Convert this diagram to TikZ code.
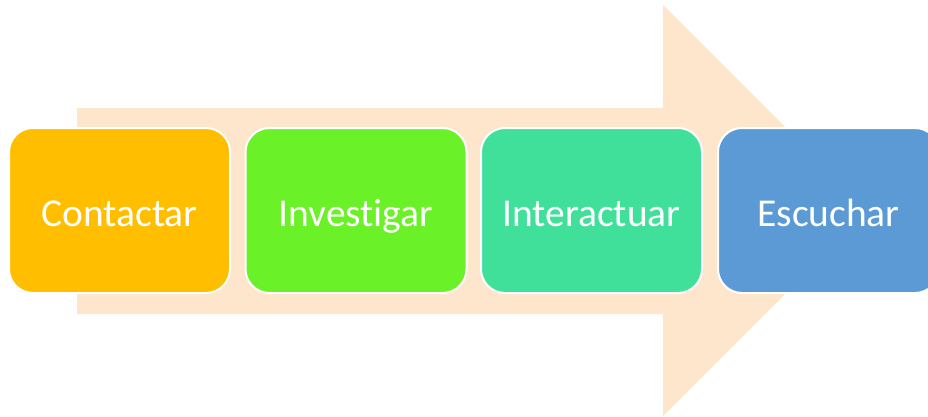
\documentclass[tikz,border=0pt]{standalone}
\usepackage{fontspec}
\setmainfont[Ligatures=NoCommon]{Carlito}
\definecolor{peach}{HTML}{FDE6CB}
\definecolor{cOrange}{HTML}{FFBE00}
\definecolor{cGreen}{HTML}{6AF127}
\definecolor{cTeal}{HTML}{41E09A}
\definecolor{cBlue}{HTML}{5B9AD5}
\begin{document}
\begin{tikzpicture}[x=1pt,y=1pt,
  stepbox/.style={draw=white, line width=2pt, rounded corners=24pt,
    minimum width=221pt, minimum height=165pt, inner sep=0pt,
    text=white, font=\fontsize{39.5}{42}\selectfont,
    text height=35pt, text depth=4pt}]
\useasboundingbox (0,0) rectangle (928,416);
\clip (0,0) rectangle (928,416);
\fill[peach] (77,308) -- (663,308) -- (663,411) -- (868.5,205.5) -- (663,0) -- (663,102) -- (77,102) -- cycle;
\node[stepbox, fill=cOrange] (a) at (119.5,205.5) {Contactar};
\node[stepbox, fill=cGreen] (b) at (356,205.5) {Investigar};
\node[stepbox, fill=cTeal] (c) at (591.5,205.5) {Interactuar};
\node[stepbox, fill=cBlue] (d) at (828.5,205.5) {Escuchar};
\end{tikzpicture}
\end{document}
